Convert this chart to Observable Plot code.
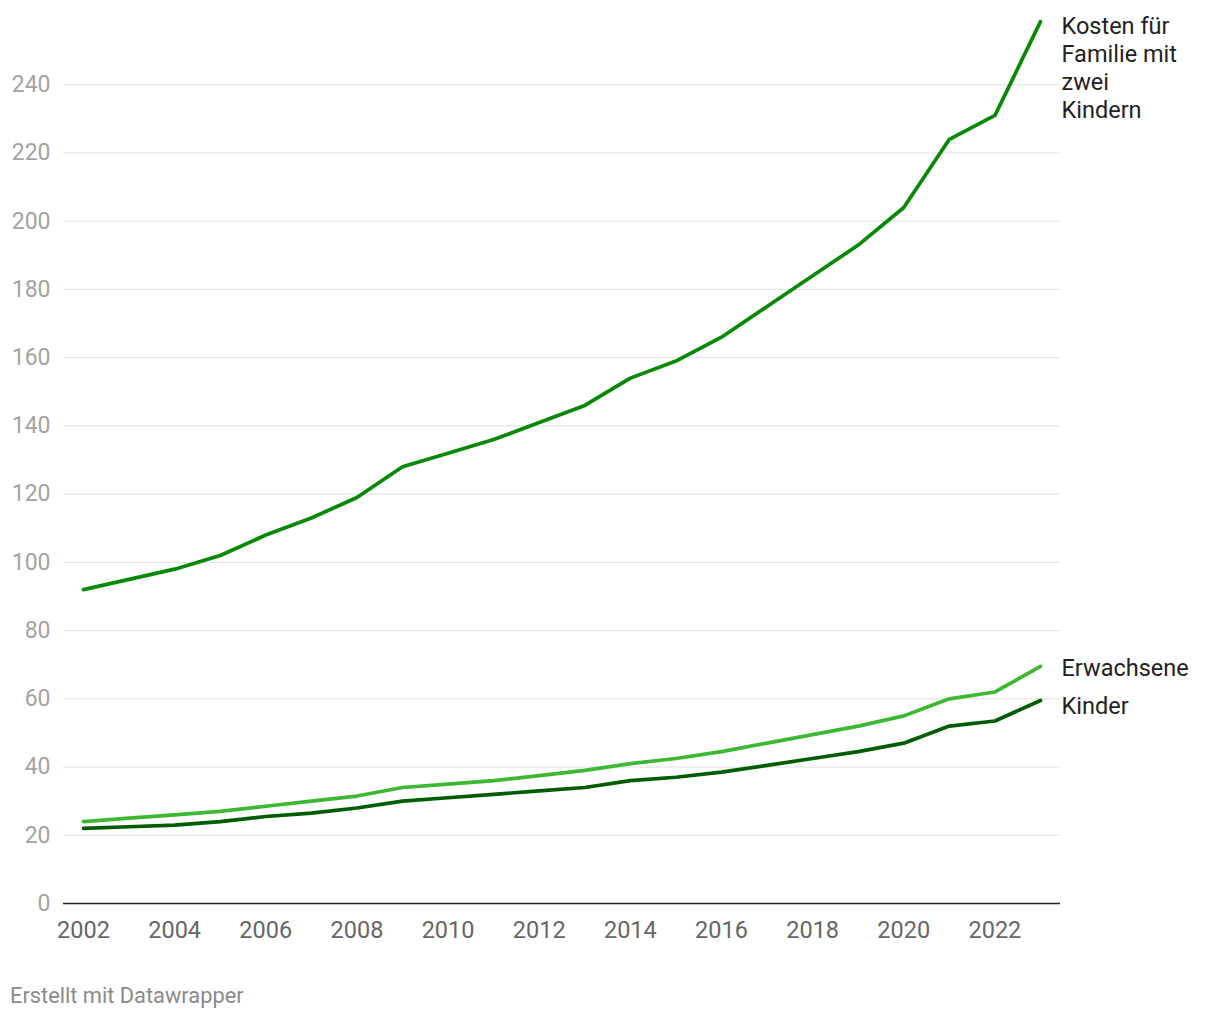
<!DOCTYPE html>
<html><head><meta charset="utf-8">
<script src="https://cdn.jsdelivr.net/npm/d3@7"></script>
<script src="https://cdn.jsdelivr.net/npm/@observablehq/plot@0.6"></script>
<style>
body{margin:0;background:#fff;font-family:Roboto,sans-serif;}
#foot{position:absolute;left:10px;top:983px;font-size:21.8px;color:#8a8a8a;font-family:Roboto,sans-serif;}
</style></head>
<body>
<div id="chart"></div>
<div id="foot">Erstellt mit Datawrapper</div>
<script>
const years = [2002,2003,2004,2005,2006,2007,2008,2009,2010,2011,2012,2013,2014,2015,2016,2017,2018,2019,2020,2021,2022,2023];
const familie = [92,95,98,102,108,113,119,128,132,136,141,146,154,159,166,175,184,193,204,224,231,258.5];
const erwachsene = [24,25,26,27,28.5,30,31.5,34,35,36,37.5,39,41,42.5,44.5,47,49.5,52,55,60,62,69.5];
const kinder = [22,22.5,23,24,25.5,26.5,28,30,31,32,33,34,36,37,38.5,40.5,42.5,44.5,47,52,53.5,59.5];
const seriesNames = ["Kosten für\nFamilie mit\nzwei\nKindern","Erwachsene","Kinder"];
const colors = ["#068a06","#3db832","#005c00"];
const yTicks = [0,20,40,60,80,100,120,140,160,180,200,220,240];
const xTicks = [2002,2004,2006,2008,2010,2012,2014,2016,2018,2020,2022];

const rows = (vals, s) => years.map((y,i)=>({year:y, value:vals[i], s}));
const dF = rows(familie, 0), dE = rows(erwachsene, 1), dK = rows(kinder, 2);
const last = d => [d[d.length-1]];

const plot = Plot.plot({
  width: 1220, height: 960,
  marginLeft: 63, marginRight: 160, marginTop: 16, marginBottom: 57,
  style: {fontFamily: "Roboto, sans-serif", background: "#fff"},
  x: {domain: [2001.561, 2023.439], ticks: xTicks, tickFormat: d => String(d), tickSize: 0, tickPadding: 18, label: null},
  y: {domain: [0, 260], ticks: yTicks, tickSize: 0, label: null},
  marks: [
    Plot.gridY(yTicks.filter(t=>t>0), {stroke: "#e0e0e0", strokeOpacity: 1, strokeWidth: 1}),
    Plot.axisY({ticks: yTicks, tickSize: 0, tickPadding: 13, fontSize: 23, fill: "#a3a3a3", label: null}),
    Plot.axisX({ticks: xTicks, tickFormat: d => String(d), tickSize: 0, tickPadding: 18, fontSize: 23.5, fill: "#666", label: null}),
    Plot.ruleY([0], {stroke: "#222", strokeWidth: 1.5}),
    Plot.line(dK, {x: "year", y: "value", stroke: colors[2], strokeWidth: 3.7}),
    Plot.line(dE, {x: "year", y: "value", stroke: colors[1], strokeWidth: 3.7}),
    Plot.line(dF, {x: "year", y: "value", stroke: colors[0], strokeWidth: 3.7}),
    Plot.text(last(dF), {x: "year", y: "value", text: () => seriesNames[0], textAnchor: "start", dx: 21, dy: 45, lineHeight: 1.19, fontSize: 23.5, fill: "#222"}),
    Plot.text(last(dE), {x: "year", y: "value", text: () => seriesNames[1], textAnchor: "start", dx: 21, dy: 2, fontSize: 23.5, fill: "#222"}),
    Plot.text(last(dK), {x: "year", y: "value", text: () => seriesNames[2], textAnchor: "start", dx: 21, dy: 6, fontSize: 23.5, fill: "#222"})
  ]
});
document.getElementById("chart").append(plot);
</script>
</body></html>
